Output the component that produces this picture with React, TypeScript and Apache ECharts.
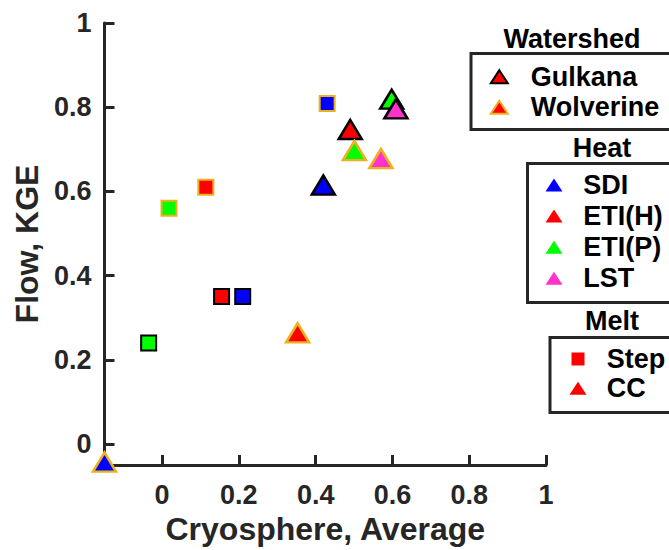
import React, { useEffect, useRef } from 'react';
import * as echarts from 'echarts';

// ---- data ----
const watershedNames = ['Gulkana', 'Wolverine'];
const heatNames = ['SDI', 'ETI(H)', 'ETI(P)', 'LST'];
const meltNames = ['Step', 'CC'];

// one entry per point: watershed index, heat index, melt index
const pointWatershed = [0, 0, 0, 0, 0, 0, 0, 1, 1, 1, 1, 1, 1, 1];
const pointHeat = [2, 1, 0, 0, 1, 2, 3, 2, 1, 0, 0, 1, 2, 3];
const pointMelt = [0, 0, 0, 1, 1, 1, 1, 0, 0, 0, 1, 1, 1, 1];
const cryoAverage = [-0.035, 0.155, 0.21, 0.42, 0.49, 0.598, 0.609, 0.018, 0.114, 0.43, -0.15, 0.353, 0.501, 0.57];
const flowKGE = [0.24, 0.35, 0.35, 0.615, 0.747, 0.819, 0.796, 0.56, 0.61, 0.809, -0.043, 0.264, 0.697, 0.678];

const tickValues = [0, 0.2, 0.4, 0.6, 0.8, 1];

// ---- styles ----
const heatColors = ['#0000FF', '#FF0000', '#00FF00', '#FF33CC'];
const watershedEdges = ['#000000', '#EDB120'];
const meltSymbols = ['rect', 'triangle'];
const AXIS = '#262626';
const FONT = '"Liberation Sans", Arial, Helvetica, sans-serif';
const LEGEND_FS = 27;

function legendTriangle(cx: number, cy: number, fill: string, stroke?: string) {
  return {
    type: 'polygon',
    z: 20,
    shape: { points: [[cx, cy - 6.5], [cx + 8.5, cy + 6.5], [cx - 8.5, cy + 6.5]] },
    style: { fill, stroke: stroke || null, lineWidth: stroke ? 2 : 0 },
  };
}
function legendSquare(cx: number, cy: number, fill: string) {
  return { type: 'rect', z: 20, shape: { x: cx - 6.5, y: cy - 6.5, width: 13, height: 13 }, style: { fill } };
}
function legendText(x: number, y: number, text: string, align = 'left') {
  return {
    type: 'text',
    z: 20,
    x,
    y,
    style: { text, fill: '#000', fontSize: LEGEND_FS, fontWeight: 'bold', fontFamily: FONT, align, verticalAlign: 'middle' },
  };
}
function legendBox(x: number, y: number, h: number) {
  return {
    type: 'rect',
    z: 15,
    shape: { x, y, width: 260, height: h },
    style: { fill: '#fff', stroke: AXIS, lineWidth: 3 },
  };
}

export default function App() {
  const ref = useRef<HTMLDivElement>(null);
  useEffect(() => {
    if (!ref.current) return;
    const chart = echarts.init(ref.current, undefined, { renderer: 'svg' });

    const data = cryoAverage.map((x, i) => {
      const isTri = meltSymbols[pointMelt[i]] === 'triangle';
      return {
        value: [x, flowKGE[i]],
        symbol: meltSymbols[pointMelt[i]],
        symbolSize: isTri ? [23, 19] : 15,
        itemStyle: {
          color: heatColors[pointHeat[i]],
          borderColor: watershedEdges[pointWatershed[i]],
          borderWidth: isTri ? 2.5 : 2,
          borderJoin: 'miter',
          opacity: 1,
        },
      };
    });

    const graphics: any[] = [];
    // Watershed legend
    graphics.push(legendText(572, 39, 'Watershed', 'center'));
    graphics.push(legendBox(471, 53.5, 76));
    const wsRows = [76.7, 107.3];
    watershedNames.forEach((n, i) => {
      graphics.push(legendTriangle(499.3, wsRows[i], heatColors[1], watershedEdges[i]));
      graphics.push(legendText(530.7, wsRows[i], n));
    });
    // Heat legend
    graphics.push(legendText(602, 148, 'Heat', 'center'));
    graphics.push(legendBox(527.5, 163.5, 139));
    const heatRows = [185, 216, 247.3, 278.3];
    heatNames.forEach((n, i) => {
      graphics.push(legendTriangle(554, heatRows[i], heatColors[i]));
      graphics.push(legendText(583.3, heatRows[i], n));
    });
    // Melt legend
    graphics.push(legendText(612, 321, 'Melt', 'center'));
    graphics.push(legendBox(550, 337.5, 75));
    const meltRows = [359, 388.3];
    meltNames.forEach((n, i) => {
      graphics.push(
        meltSymbols[i] === 'rect' ? legendSquare(578, meltRows[i], heatColors[1]) : legendTriangle(578, meltRows[i], heatColors[1])
      );
      graphics.push(legendText(606.7, meltRows[i], n));
    });

    const axisCommon = {
      type: 'value',
      splitLine: { show: false },
      axisLine: { show: true, onZero: false, lineStyle: { color: AXIS, width: 3 } },
      axisTick: { show: true, inside: true, length: 10, customValues: tickValues, lineStyle: { color: AXIS, width: 3 } },
      nameTextStyle: { fontSize: 32, fontWeight: 'bold', fontFamily: FONT, color: AXIS },
    };
    const labelCommon = { customValues: tickValues, fontSize: 27, fontWeight: 'bold', fontFamily: FONT, color: AXIS };

    chart.setOption({
      animation: false,
      backgroundColor: '#fff',
      grid: { left: 104.5, right: 123, top: 23, bottom: 85, containLabel: false, outerBoundsMode: 'none' },
      xAxis: {
        ...axisCommon,
        min: -0.15,
        max: 1,
        name: 'Cryosphere, Average',
        nameLocation: 'middle',
        nameGap: 48,
        axisLabel: { ...labelCommon, margin: 16 },
      },
      yAxis: {
        ...axisCommon,
        min: -0.05,
        max: 1,
        name: 'Flow, KGE',
        nameLocation: 'middle',
        nameGap: 61,
        axisLabel: { ...labelCommon, margin: 13 },
      },
      series: [
        {
          type: 'scatter',
          clip: false,
          data,
        },
      ],
      graphic: graphics,
    });

    return () => chart.dispose();
  }, []);

  return <div ref={ref} style={{ position: 'fixed', left: 0, top: 0, width: 669, height: 550 }} />;
}
